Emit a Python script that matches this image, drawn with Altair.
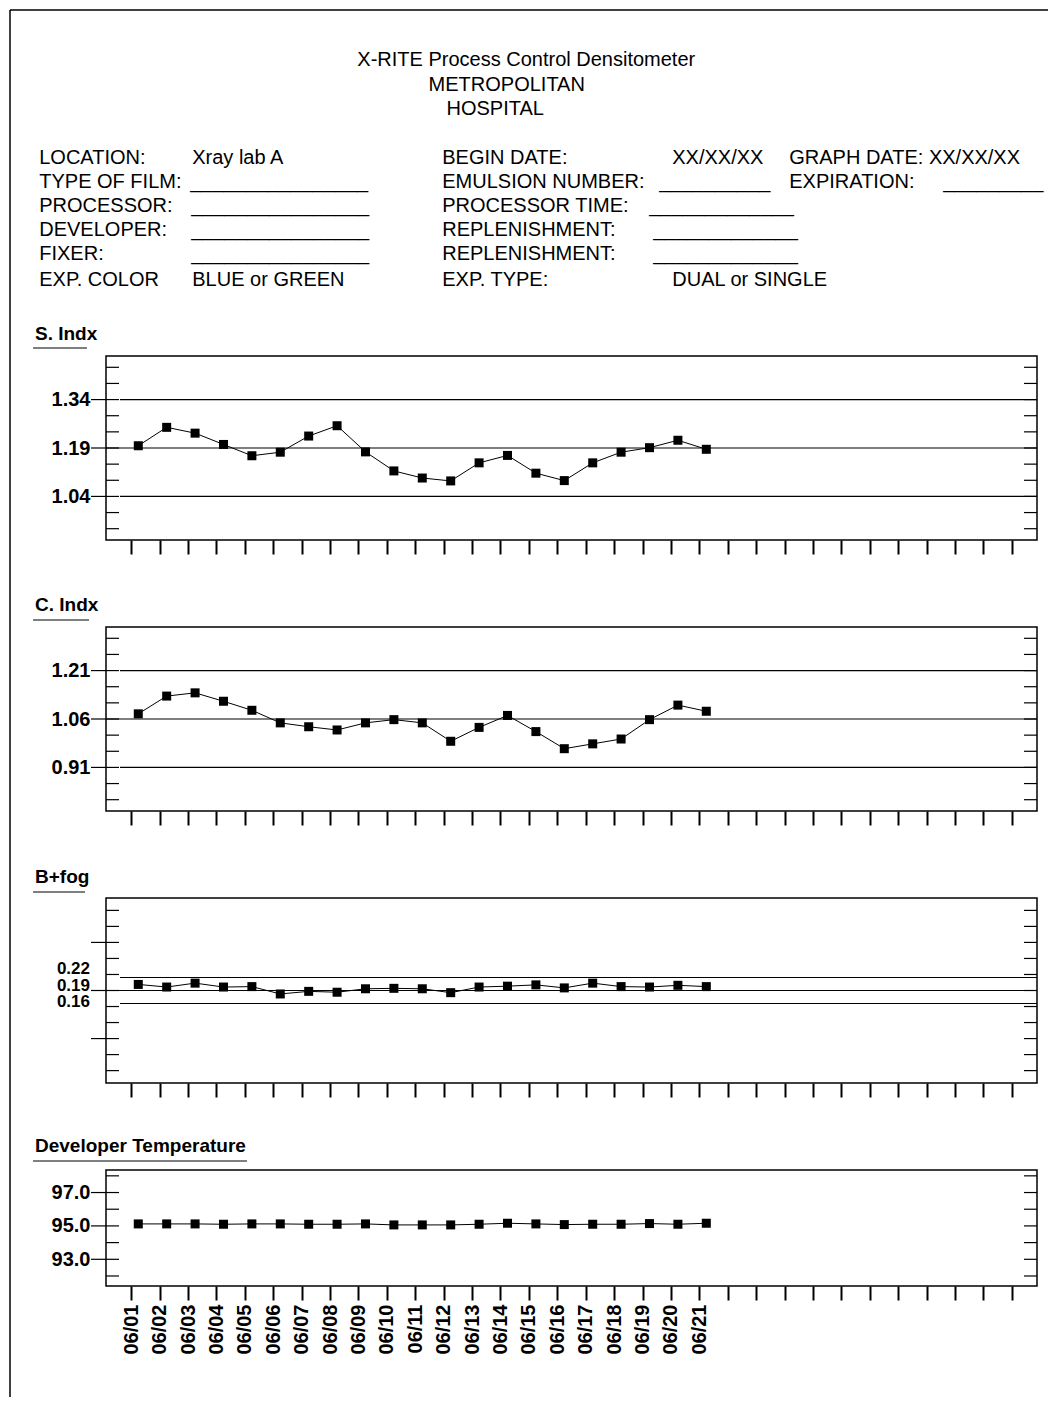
import altair as alt
import pandas as pd

FONT = "Liberation Sans, Arial, Helvetica, sans-serif"

# ---------------- data ----------------
DATES = ["06/01", "06/02", "06/03", "06/04", "06/05", "06/06", "06/07",
         "06/08", "06/09", "06/10", "06/11", "06/12", "06/13", "06/14",
         "06/15", "06/16", "06/17", "06/18", "06/19", "06/20", "06/21"]
EMPTY_SLOTS = ["~22", "~23", "~24", "~25", "~26", "~27", "~28",
               "~29", "~30", "~31", "~32"]

S_INDX = [1.197, 1.254, 1.236, 1.201, 1.166, 1.177, 1.227, 1.259, 1.178,
          1.119, 1.097, 1.088, 1.144, 1.167, 1.112, 1.089, 1.144, 1.177,
          1.191, 1.214, 1.186]
C_INDX = [1.076, 1.131, 1.141, 1.115, 1.087, 1.048, 1.036, 1.026, 1.048,
          1.058, 1.048, 0.991, 1.034, 1.071, 1.021, 0.968, 0.983, 0.998,
          1.058, 1.103, 1.084]
B_FOG = [0.204, 0.198, 0.207, 0.198, 0.199, 0.182, 0.188, 0.186, 0.194,
         0.195, 0.194, 0.185, 0.198, 0.200, 0.203, 0.196, 0.207, 0.199,
         0.198, 0.202, 0.199]
DEV_TEMP = [95.12, 95.12, 95.12, 95.10, 95.12, 95.12, 95.10, 95.10, 95.12,
            95.06, 95.06, 95.06, 95.10, 95.16, 95.12, 95.08, 95.10, 95.10,
            95.14, 95.10, 95.16]

PANEL_NAMES = ["S. Indx", "C. Indx", "B+fog", "Developer  Temperature"]

S_CENTER, S_LIMITS = 1.19, [1.04, 1.34]
S_LABELS = [1.04, 1.19, 1.34]
S_TICKS = [0.94, 0.99, 1.04, 1.09, 1.14, 1.19, 1.24, 1.29, 1.34, 1.39, 1.44]

C_CENTER, C_LIMITS = 1.06, [0.91, 1.21]
C_LABELS = [0.91, 1.06, 1.21]
C_TICKS = [0.81, 0.86, 0.91, 0.96, 1.01, 1.06, 1.11, 1.16, 1.21, 1.26, 1.31]

B_CENTER, B_LIMITS = 0.19, [0.16, 0.22]
B_LABELS = [0.16, 0.19, 0.22]
B_TICKS = [0.005, 0.042, 0.079, 0.116, 0.153, 0.19, 0.227, 0.264, 0.301,
           0.338, 0.375]
B_OUT_TICKS = [0.079, 0.19, 0.301]

T_LABELS = [93.0, 95.0, 97.0]
T_TICKS = [92, 93, 94, 95, 96, 97, 98]

TITLE_LINES = ["X-RITE Process Control Densitometer", "METROPOLITAN", "HOSPITAL"]
LEFT_LABELS = ["LOCATION:", "TYPE OF FILM:", "PROCESSOR:", "DEVELOPER:",
               "FIXER:", "EXP. COLOR"]
LEFT_VALUES = ["Xray lab A", "", "", "", "", "BLUE or GREEN"]
MID_LABELS = ["BEGIN DATE:", "EMULSION NUMBER:", "PROCESSOR TIME:",
              "REPLENISHMENT:", "REPLENISHMENT:", "EXP. TYPE:"]
MID_VALUES = ["XX/XX/XX", "", "", "", "", "DUAL or SINGLE"]
RIGHT_TEXT = ["GRAPH DATE: XX/XX/XX", "EXPIRATION:", "", "", "", ""]

# ---------------- layout (page pixels) ----------------
OX, OY = 104.75, 8.75          # page position of the plot origin
PLOT_W = 931
SPACING = 87
HEADER_H = 259
TITLE_X = [525, 505.5, 494]
TITLE_Y = [59, 84, 108]
ROW_Y = [157, 181, 205, 229, 253, 279]
COL_X = [38, 191, 441, 671, 788]
# blanks: (row, x, number of underscore characters)
BLANKS = [(1, 189, 16), (2, 190, 16), (3, 190, 16), (4, 190, 16),
          (1, 658, 10), (2, 648, 13), (3, 652, 13), (4, 652, 13),
          (1, 942, 9)]
# vertical nudges (px) of the tightly packed B+fog labels, same order as B_LABELS
B_LABEL_DY = [-1, -5, -9]

SLOTS = DATES + EMPTY_SLOTS
ONE = pd.DataFrame({"k": [0]})


def border(y0, y1):
    return alt.Chart(ONE).mark_rule(color="black", strokeWidth=1.5).encode(
        x=alt.value(-96), y=alt.value(y0), y2=alt.value(y1))


# ---------------- header ----------------
title_df = pd.DataFrame({
    "text": TITLE_LINES,
    "x": [v - OX for v in TITLE_X],
    "y": [v - OY for v in TITLE_Y],
})
field_rows = []
for i in range(6):
    for col, txt in zip(COL_X, [LEFT_LABELS[i], LEFT_VALUES[i], MID_LABELS[i],
                                MID_VALUES[i], RIGHT_TEXT[i]]):
        if txt:
            field_rows.append({"text": txt, "x": col - OX, "y": ROW_Y[i] - OY})
for row, bx, n in BLANKS:
    field_rows.append({"text": "_" * n, "x": bx - OX, "y": ROW_Y[row] - OY})
field_df = pd.DataFrame(field_rows)

hx = alt.X("x:Q", scale=None, axis=None)
hy = alt.Y("y:Q", scale=None, axis=None)
title_layer = alt.Chart(title_df).mark_text(
    fontSize=20, align="center", baseline="middle", color="black", font=FONT
).encode(x=hx, y=hy, text="text:N")
field_layer = alt.Chart(field_df).mark_text(
    fontSize=20, align="left", baseline="middle", color="black", font=FONT
).encode(x=hx, y=hy, text="text:N")
top_border = alt.Chart(ONE).mark_rule(color="black", strokeWidth=1.5).encode(
    x=alt.value(-96), x2=alt.value(942), y=alt.value(0))

header = alt.layer(
    title_layer, field_layer, top_border, border(0, HEADER_H + SPACING)
).properties(width=PLOT_W, height=HEADER_H,
             view=alt.ViewBackground(stroke="transparent"))


# ---------------- panels ----------------
def panel(name, values, domain, ticks, labels, out_ticks, center, limits,
          fmt, height, ul_len, name_dy, ul_dy, show_dates, border_extra,
          label_dys=None):
    df = pd.DataFrame({"date": DATES, "v": values})

    xenc = alt.X(
        "date:N",
        scale=alt.Scale(type="point", domain=SLOTS, padding=0.89),
        axis=alt.Axis(
            values=SLOTS, ticks=True, tickSize=14, tickWidth=2,
            tickColor="black", domain=False, grid=False, title=None,
            labels=show_dates, labelAngle=270, labelFontSize=20,
            labelFontWeight="bold", labelPadding=4, labelColor="black",
            labelFont=FONT, labelOverlap=False,
            labelExpr="indexof(datum.label, '~') == 0 ? '' : datum.label"),
    )

    axis_labels = label_dys is None

    def yenc():
        return alt.Y(
            "v:Q",
            scale=alt.Scale(domain=domain, nice=False, zero=False),
            axis=alt.Axis(
                values=labels, format=fmt, ticks=False, tickSize=0,
                domain=False, grid=False, title=None, labelFontSize=20,
                labelFontWeight="bold", labelPadding=16, labelColor="black",
                labelFont=FONT, labelOverlap=False, labels=axis_labels),
        )

    layers = []
    if center is not None:
        layers.append(alt.Chart(pd.DataFrame({"v": [center]})).mark_rule(
            color="black", strokeWidth=1.2).encode(y=yenc()))
    if limits:
        layers.append(alt.Chart(pd.DataFrame({"v": limits})).mark_rule(
            color="black", strokeWidth=1.2).encode(
            y=yenc(), x=alt.value(14), x2=alt.value(PLOT_W)))
    tdf = pd.DataFrame({"v": ticks})
    layers.append(alt.Chart(tdf).mark_rule(color="black", strokeWidth=1.2).encode(
        y=yenc(), x=alt.value(0), x2=alt.value(13)))
    layers.append(alt.Chart(tdf).mark_rule(color="black", strokeWidth=1.2).encode(
        y=yenc(), x=alt.value(PLOT_W - 13), x2=alt.value(PLOT_W)))
    layers.append(alt.Chart(pd.DataFrame({"v": out_ticks})).mark_rule(
        color="black", strokeWidth=1.2).encode(
        y=yenc(), x=alt.value(-15), x2=alt.value(0)))
    if label_dys is not None:
        for val, dy in zip(labels, label_dys):
            layers.append(alt.Chart(pd.DataFrame({"v": [val]})).mark_text(
                align="right", baseline="middle", fontSize=17,
                fontWeight="bold", color="black", font=FONT, dy=dy).encode(
                y=yenc(), x=alt.value(-16),
                text=alt.Text("v:Q", format=fmt)))
    layers.append(alt.Chart(df).mark_line(
        color="black", strokeWidth=1, xOffset=7).encode(x=xenc, y=yenc()))
    layers.append(alt.Chart(df).mark_square(
        color="black", size=81, opacity=1, filled=True, xOffset=7).encode(
        x=xenc, y=yenc()))
    layers.append(alt.Chart(pd.DataFrame({"t": [name]})).mark_text(
        align="left", baseline="middle", fontSize=19, fontWeight="bold",
        color="black", font=FONT).encode(
        text="t:N", x=alt.value(-71), y=alt.value(name_dy)))
    layers.append(alt.Chart(ONE).mark_rule(color="black", strokeWidth=1.2).encode(
        x=alt.value(-73), x2=alt.value(-73 + ul_len), y=alt.value(ul_dy)))
    layers.append(border(0, height + border_extra))

    return alt.layer(*layers).properties(width=PLOT_W, height=height)


p1 = panel(PANEL_NAMES[0], S_INDX, [0.905, 1.475], S_TICKS, S_LABELS, S_LABELS,
           S_CENTER, S_LIMITS, ".2f", 184, 54, -22, -8, False, SPACING)
p2 = panel(PANEL_NAMES[1], C_INDX, [0.775, 1.345], C_TICKS, C_LABELS, C_LABELS,
           C_CENTER, C_LIMITS, ".2f", 184, 56, -22, -7, False, SPACING)
p3 = panel(PANEL_NAMES[2], B_FOG, [-0.0236, 0.4036], B_TICKS, B_LABELS,
           B_OUT_TICKS, B_CENTER, B_LIMITS, ".2f", 185, 52, -21, -6, False,
           SPACING, label_dys=B_LABEL_DY)
p4 = panel(PANEL_NAMES[3], DEV_TEMP, [91.4, 98.35], T_TICKS, T_LABELS, T_LABELS,
           None, [], ".1f", 116, 214, -24, -9, True, 111)

chart = alt.vconcat(
    header, p1, p2, p3, p4, spacing=SPACING, bounds="flush"
).properties(
    padding=0
).configure(
    font=FONT
).configure_view(
    stroke="black", strokeWidth=1.5
).configure_axis(
    grid=False, labelFont=FONT
)

chart.save("out.html", embed_options={"renderer": "svg", "actions": False})
